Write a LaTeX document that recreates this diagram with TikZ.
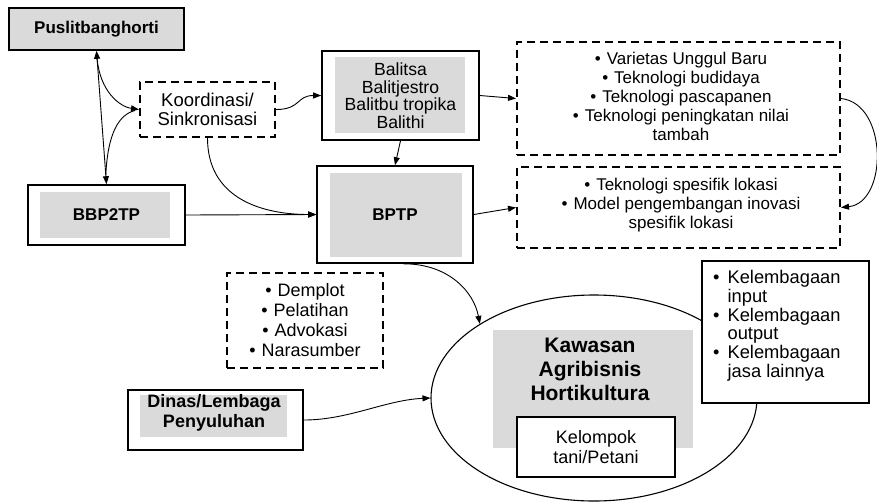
\documentclass[tikz,border=0pt]{standalone}
\usepackage{fontspec}
\setmainfont{Liberation Sans}
\usetikzlibrary{arrows.meta,shapes.geometric,calc}
\definecolor{boxgray}{HTML}{DADADA}
\begin{document}
\begin{tikzpicture}[x=1pt,y=-1pt,
  every node/.style={font=\fontsize{17}{19}\selectfont, inner sep=0pt, align=center},
  solidbox/.style={draw, line width=1.6pt},
  dashbox/.style={draw, line width=2pt, dash pattern=on 8pt off 5pt},
  arr/.style={-{Triangle[length=8pt,width=6pt]}, line width=0.9pt},
  conn/.style={line width=0.9pt},
  boldtxt/.style={font=\fontsize{17}{20}\selectfont\bfseries}]
\useasboundingbox (0,0) rectangle (877,501);

% gray inner panels
\fill[boxgray] (40,192) rectangle (170,238);
\fill[boxgray] (335,57) rectangle (465,133);
\fill[boxgray] (330,173) rectangle (462,257);
\fill[boxgray] (140,395) rectangle (287,437);

% boxes
\node[solidbox, fill=boxgray, minimum width=175pt, minimum height=42pt, boldtxt] (pus) at (96.5,29) {Puslitbanghorti};
\node[dashbox, minimum width=135pt, minimum height=55pt, font=\fontsize{18.5}{18.5}\selectfont] (koo) at (207.5,109.5) {Koordinasi/\\Sinkronisasi};
\node[solidbox, minimum width=157pt, minimum height=60pt, boldtxt] (bbp) at (106.5,215) {BBP2TP};
\node[solidbox, minimum width=157pt, minimum height=89pt, font=\fontsize{17.6}{17.5}\selectfont] (bal) at (400.5,95.5) {Balitsa\\Balitjestro\\Balitbu tropika\\Balithi};
\node[solidbox, minimum width=156pt, minimum height=97pt, boldtxt] (bptp) at (395,214.5) {BPTP};
\node[dashbox, minimum width=323pt, minimum height=113pt] (top) at (678.5,98.5) {};
\node (topt) at (681,96) {\textbullet\hspace{6pt}Varietas Unggul Baru\\ \textbullet\hspace{6pt}Teknologi budidaya\\ \textbullet\hspace{6pt}Teknologi pascapanen\\ \textbullet\hspace{6pt}Teknologi peningkatan nilai\\ tambah};
\node[dashbox, minimum width=323pt, minimum height=81pt] (bot) at (678.5,207.5) {};
\node (bott) at (681,205) {\textbullet\hspace{6pt}Teknologi spesifik lokasi\\ \textbullet\hspace{6pt}Model pengembangan inovasi\\ spesifik lokasi};
\node[dashbox, minimum width=156pt, minimum height=95pt, font=\fontsize{18}{20}\selectfont] (dem) at (305,320.5) {\textbullet\hspace{6pt}Demplot\\ \textbullet\hspace{6pt}Pelatihan\\ \textbullet\hspace{6pt}Advokasi\\ \textbullet\hspace{6pt}Narasumber};
\node[solidbox, minimum width=175pt, minimum height=60pt] (din) at (215.5,420) {};
\node[boldtxt, font=\fontsize{18}{20}\selectfont\bfseries] (dint) at (214,413) {Dinas/Lembaga\\Penyuluhan};

% Kawasan ellipse
\node[draw, ellipse, line width=1.1pt, minimum width=326pt, minimum height=206pt] (kaw) at (594,398) {};
\fill[boxgray] (493,330) rectangle (693,448);
\node[font=\fontsize{21}{24}\selectfont\bfseries] (kawt) at (590,369) {Kawasan\\Agribisnis\\Hortikultura};
\node[solidbox, fill=white, minimum width=158pt, minimum height=60pt, line width=1.4pt, font=\fontsize{18}{20}\selectfont] (kpk) at (596,447) {Kelompok\\tani/Petani};

% Kelembagaan box
\node[solidbox, fill=white, minimum width=167pt, minimum height=142pt] (kel) at (785.5,332) {};
\node[anchor=north west, font=\fontsize{18.3}{18.5}\selectfont] (kelt) at (713,270) {%
\begin{tabular}{@{}l@{\hspace{8pt}}l@{}}
\textbullet & Kelembagaan\\
 & input\\
\textbullet & Kelembagaan\\
 & output\\
\textbullet & Kelembagaan\\
 & jasa lainnya
\end{tabular}};

% connectors
\draw[{Triangle[length=8pt,width=6pt]}-{Triangle[length=8pt,width=6pt]}, conn] (pus.south) -- (bbp.north);
\coordinate (c1) at ($(pus.south)!0.06!(bbp.north)$);
\coordinate (c2) at ($(pus.south)!0.93!(bbp.north)$);
\draw[arr] (c1) .. controls +(3,32) and +(-20,-3) .. (koo.west);
\draw[conn] (c2) .. controls +(2,-42) and +(-16,4) .. ($(koo.west)+(-4,1)$);
\draw[arr] (koo.east) .. controls +(25,0) and +(-25,0) .. (bal.west);
\draw[arr] (koo.south) .. controls +(0,60) and +(-55,0) .. (bptp.west);
\draw[arr] (bbp.east) -- (bptp.west);
\draw[arr] (bal.south) -- (bptp.north);
\draw[arr] (bal.east) -- (top.west);
\draw[arr] (bptp.east) -- (bot.west);
\draw[arr] (top.east) .. controls +(47,5) and +(47,-5) .. (bot.east);
\draw[arr] (bptp.-80) .. controls +(45,0) and +(-6,-32) .. (kaw.147);
\draw[arr] (din.east) .. controls +(45,0) and +(-45,2) .. (kaw.west);
\end{tikzpicture}
\end{document}
